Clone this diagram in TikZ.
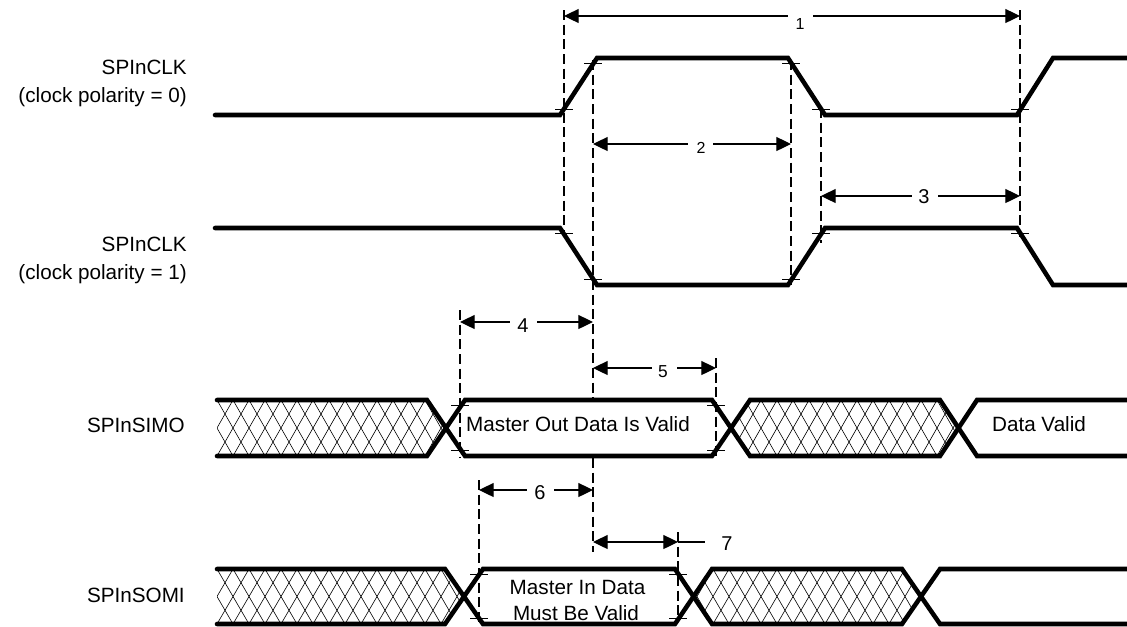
\documentclass[tikz,border=0pt]{standalone}
\usepackage{fontspec}
\setmainfont{Liberation Sans}
\usetikzlibrary{arrows.meta}
\tikzset{
  sig/.style={line width=3.4pt, line cap=round, line join=miter},
  guide/.style={line width=0.8pt, dash pattern=on 7.5pt off 3.5pt},
  tickmark/.style={line width=0.7pt},
  dimL/.style={line width=0.9pt, {Triangle[length=11pt,width=10.5pt]}-},
  dimR/.style={line width=0.9pt, -{Triangle[length=11pt,width=10.5pt]}},
  dimB/.style={line width=0.9pt, {Triangle[length=11pt,width=10.5pt]}-{Triangle[length=11pt,width=10.5pt]}},
  dimplain/.style={line width=0.9pt},
  hatchline/.style={line width=0.45pt},
  lbl/.style={font=\fontsize{15.5}{18}\selectfont, anchor=base east, inner sep=0pt},
  txt/.style={font=\fontsize{15.5}{18}\selectfont, anchor=base, inner sep=0pt},
  numbig/.style={font=\fontsize{15}{18}\selectfont, anchor=base, inner sep=0pt},
  numsmall/.style={font=\fontsize{12}{14}\selectfont, anchor=base, inner sep=0pt},
  nummid/.style={font=\fontsize{13}{15}\selectfont, anchor=base, inner sep=0pt},
}
\newcommand{\tickat}[2]{\draw[tickmark] (#1-9,#2) -- (#1+9,#2);}
\newcommand{\hatchrange}[5]{% x-first, x-second, x-last, y-top, height
  \foreach \hx in {#1,#2,...,#3} {
    \draw[hatchline] (\hx,#4) -- ++(32,#5);
    \draw[hatchline] (\hx,#4+#5) -- ++(32,-#5);
  }}
\begin{document}
\begin{tikzpicture}[x=0.75pt,y=-0.75pt]
\useasboundingbox (0,0) rectangle (1127,626);

% ---------- left labels ----------
\node[lbl] (c0a) at (187,74.3) {SPInCLK};
\node[lbl] (c0b) at (187,102.7) {(clock polarity = 0)};
\node[lbl] (c1a) at (187,251) {SPInCLK};
\node[lbl] (c1b) at (187,279.3) {(clock polarity = 1)};
\node[lbl] (simo) at (185,432.7) {SPInSIMO};
\node[lbl] (somi) at (185,602.7) {SPInSOMI};

% ---------- hatching ----------
\begin{scope}
  \clip (217,400) -- (427,400) -- (446,428) -- (427,456) -- (217,456) -- cycle;
  \hatchrange{185}{201}{450}{400}{56}
\end{scope}
\begin{scope}
  \clip (731,428) -- (750,400) -- (940,400) -- (958.5,428) -- (940,456) -- (750,456) -- cycle;
  \hatchrange{697}{713}{960}{400}{56}
\end{scope}
\begin{scope}
  \clip (217,569) -- (445,569) -- (464,596.5) -- (445,624) -- (217,624) -- cycle;
  \hatchrange{185}{201}{470}{569}{55}
\end{scope}
\begin{scope}
  \clip (693.5,596.5) -- (712,569) -- (902,569) -- (921,596.5) -- (902,624) -- (712,624) -- cycle;
  \hatchrange{665}{681}{925}{569}{55}
\end{scope}

% ---------- guides ----------
\draw[guide] (564,10) -- (564,235);
\draw[guide] (593,60) -- (593,398);
\draw[guide] (593,458) -- (593,552);
\draw[guide] (791,60) -- (791,285);
\draw[guide] (821,108) -- (821,243);
\draw[guide] (1020,10) -- (1020,237);
\draw[guide] (460,310) -- (460,458);
\draw[guide] (716,358) -- (716,458);
\draw[guide] (479,480) -- (479,622);
\draw[guide] (678,532) -- (678,622);

% ---------- signals ----------
\draw[sig] (215,115) -- (560,115) -- (597,58) -- (788,58) -- (825,115) -- (1017,115) -- (1053,58) -- (1130,58);
\draw[sig] (215,228) -- (560,228) -- (597,285) -- (788,285) -- (825,228) -- (1017,228) -- (1053,285) -- (1130,285);

\draw[sig] (217,400) -- (427,400) -- (465,456) -- (712,456) -- (750,400) -- (940,400) -- (977,456) -- (1130,456);
\draw[sig] (217,456) -- (427,456) -- (465,400) -- (712,400) -- (750,456) -- (940,456) -- (977,400) -- (1130,400);

\draw[sig] (217,569) -- (445,569) -- (483,624) -- (675,624) -- (712,569) -- (902,569) -- (940,624) -- (1130,624);
\draw[sig] (217,624) -- (445,624) -- (483,569) -- (675,569) -- (712,624) -- (902,624) -- (940,569) -- (1130,569);

% ---------- tick marks ----------
\tickat{564}{109.3} \tickat{593}{63.7} \tickat{791}{63.7} \tickat{821}{109.3} \tickat{1020}{109.3}
\tickat{564}{233.7} \tickat{593}{279.3} \tickat{791}{279.3} \tickat{821}{233.7} \tickat{1020}{233.7}
\tickat{460}{405.6} \tickat{460}{450.4} \tickat{716}{405.6} \tickat{716}{450.4}
\tickat{479}{574.5} \tickat{479}{618.5} \tickat{678}{574.5} \tickat{678}{618.5}

% ---------- data texts ----------
\node[txt] (mo) at (578,431.7) {Master Out Data Is Valid};
\node[txt] (dv) at (1039,431.7) {Data Valid};
\node[txt] (mi1) at (577.5,594) {Master In Data};
\node[txt] (mi2) at (576,620) {Must Be Valid};

% ---------- dimensions ----------
\coordinate (d1a) at (564,16);  \coordinate (d1l) at (788,16);  \coordinate (d1r) at (813,16);  \coordinate (d1b) at (1020,16);
\draw[dimL] (d1a) -- (d1l); \draw[dimR] (d1r) -- (d1b);
\node[numsmall] (n1) at (800,29) {1};

\coordinate (d2a) at (593,144); \coordinate (d2l) at (688,144); \coordinate (d2r) at (713,144); \coordinate (d2b) at (791,144);
\draw[dimL] (d2a) -- (d2l); \draw[dimR] (d2r) -- (d2b);
\node[numsmall] (n2) at (701,153) {2};

\coordinate (d3a) at (821,196); \coordinate (d3l) at (912,196); \coordinate (d3r) at (938,196); \coordinate (d3b) at (1020,196);
\draw[dimL] (d3a) -- (d3l); \draw[dimR] (d3r) -- (d3b);
\node[numbig] (n3) at (924,203) {3};

\coordinate (d4a) at (460,322); \coordinate (d4l) at (510,322); \coordinate (d4r) at (537,322); \coordinate (d4b) at (593,322);
\draw[dimL] (d4a) -- (d4l); \draw[dimR] (d4r) -- (d4b);
\node[numbig] (n4) at (523,332) {4};

\coordinate (d5a) at (593,368); \coordinate (d5l) at (652,368); \coordinate (d5r) at (677,368); \coordinate (d5b) at (716,368);
\draw[dimL] (d5a) -- (d5l); \draw[dimR] (d5r) -- (d5b);
\node[nummid] (n5) at (663,377) {5};

\coordinate (d6a) at (479,490); \coordinate (d6l) at (527,490); \coordinate (d6r) at (554,490); \coordinate (d6b) at (593,490);
\draw[dimL] (d6a) -- (d6l); \draw[dimR] (d6r) -- (d6b);
\node[numbig] (n6) at (540,499) {6};

\coordinate (d7a) at (593,542); \coordinate (d7b) at (678,542); \coordinate (d7c) at (705,542);
\draw[dimB] (d7a) -- (d7b); \draw[dimplain] (d7b) -- (d7c);
\node[numbig] (n7) at (727,550) {7};
\end{tikzpicture}
\end{document}
